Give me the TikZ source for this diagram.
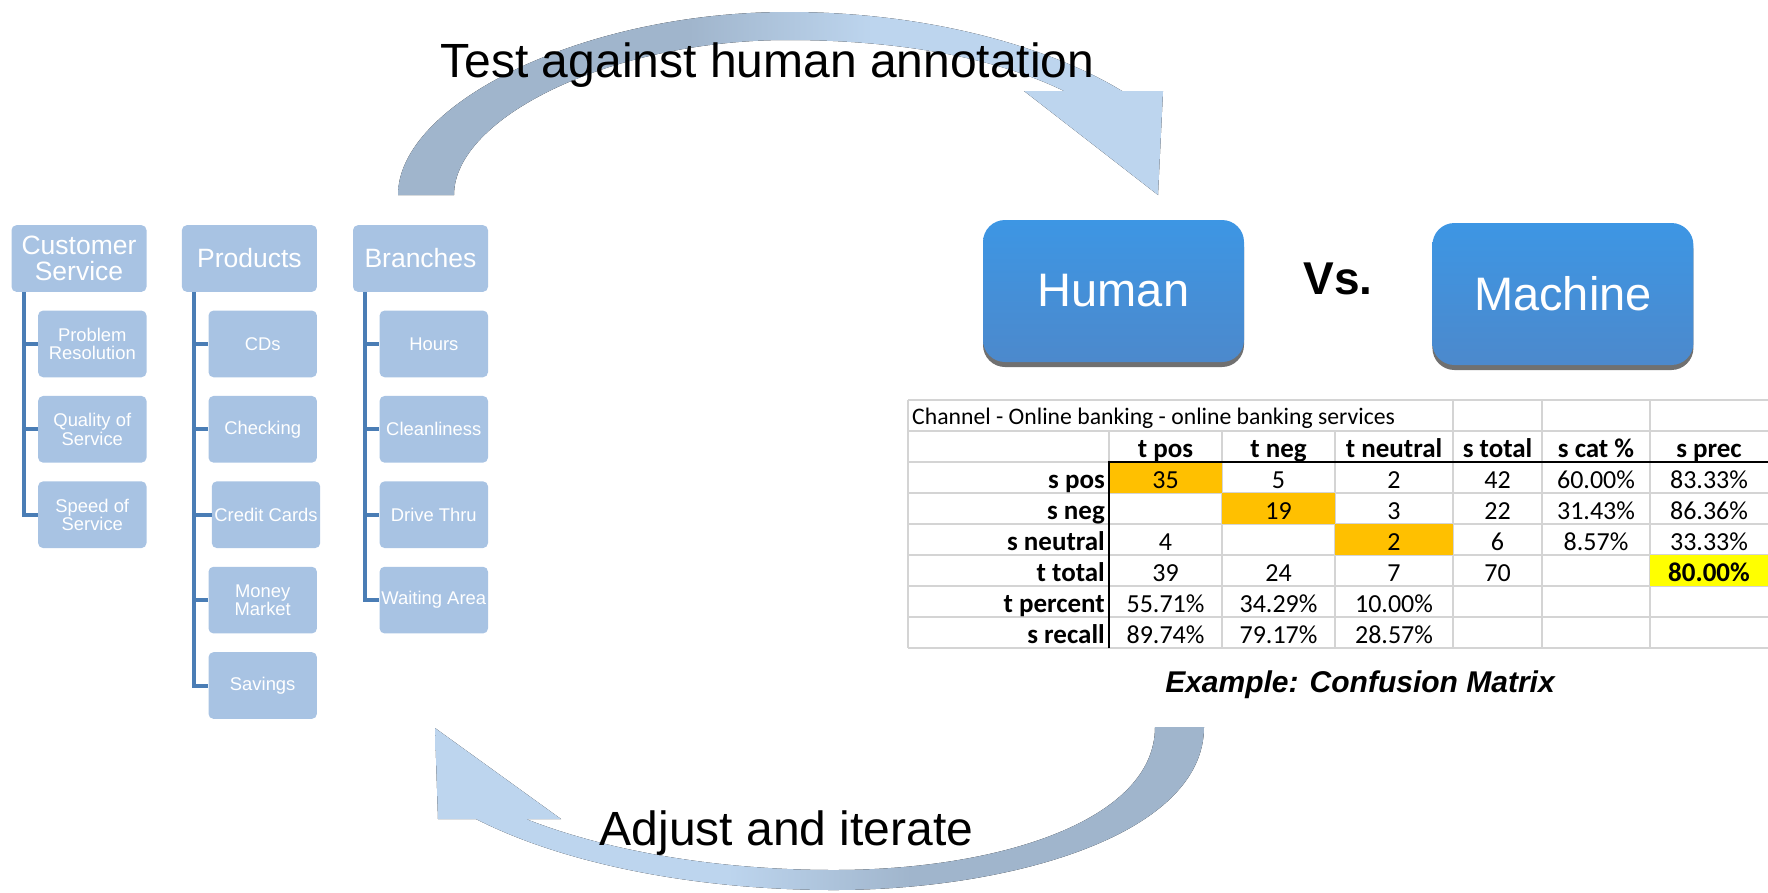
\documentclass[tikz,border=0pt]{standalone}
\usepackage{fontspec}
\setmainfont{Liberation Sans}
\newfontfamily\tablefont{Carlito}
\usepackage{tikz}
\usetikzlibrary{positioning,calc,shadows}

\definecolor{boxblue}{HTML}{A8C3E3}
\definecolor{lineblue}{HTML}{4A7DB5}
\definecolor{arcdark}{HTML}{A0B5CC}
\definecolor{arclight}{HTML}{BDD5EE}
\definecolor{humantop}{HTML}{3D96E4}
\definecolor{humanbot}{HTML}{4C89CC}
\definecolor{gridgray}{HTML}{D4D4D4}
\definecolor{cellorange}{HTML}{FFC000}
\definecolor{cellyellow}{HTML}{FFFF00}
\newcommand{\setfs}[1]{\fontsize{#1}{#1}\selectfont}
\pgfdeclarehorizontalshading{arcshade}{100bp}{color(0bp)=(arcdark); color(44bp)=(arcdark);
  color(56bp)=(arclight); color(100bp)=(arclight)}

\begin{document}
\begin{tikzpicture}[
  x=1pt, y=-1pt,
  node distance=18.3pt,
  catbox/.style={fill=boxblue, rounded corners=5pt, minimum width=135pt, minimum height=66.7pt,
                 inner sep=0pt, align=center, text=white, font=\setfs{26.5}},
  leafbox/.style={catbox, minimum width=108.4pt, font=\setfs{18.4}},
  treeline/.style={draw=lineblue, line width=4pt},
  bigbox/.style={rounded corners=22pt, top color=humantop, bottom color=humanbot,
                 minimum width=261pt, minimum height=142pt, text=white, font=\setfs{47},
                 drop shadow={shadow xshift=0pt, shadow yshift=-5pt, fill=black!80, opacity=0.7}},
  gridline/.style={draw=gridgray, line width=2pt},
  cell/.style={anchor=base, inner sep=0pt, font=\tablefont\setfs{26}},
  headcell/.style={cell, font=\tablefont\bfseries\setfs{27}},
  arclabel/.style={anchor=base, font=\setfs{48}}
]
  \useasboundingbox (0,0) rectangle (1768,892);

  % feedback arcs
  \fill[shading=arcshade] (398,195) .. controls (398,105) and (580,12) .. (788,12)
    .. controls (935,12) and (1055,50) .. (1122,91)
    -- (1163,91) -- (1158,195) -- (1024,91) -- (1064,91)
    .. controls (990,55) and (890,40) .. (788,40)
    .. controls (610,40) and (454,118) .. (454,195) -- cycle;
  \fill[shading=arcshade, shading angle=180] (1204,727) .. controls (1204,835) and (1010,890) .. (834,890)
    .. controls (690,890) and (560,862) .. (476,819)
    -- (438,819) -- (435,728) -- (561,819) -- (526,819)
    .. controls (610,852) and (720,870) .. (834,870)
    .. controls (1000,870) and (1155,820) .. (1155,727) -- cycle;
  \node[arclabel] (testlbl) at (767.5,77) {Test against human annotation};
  \node[arclabel] (adjlbl) at (786.5,845) {Adjust and iterate};

  % category tree
  \node[catbox] (cs) at (79,258.5) {Customer\\Service};
  \node[catbox, right=35pt of cs] (pr) {Products};
  \node[catbox, right=35.7pt of pr] (br) {Branches};

  \node[leafbox, below left=18.3pt and 0pt of cs.south east] (cs1) {Problem\\Resolution};
  \node[leafbox, below=of cs1] (cs2) {Quality of\\Service};
  \node[leafbox, below=of cs2] (cs3) {Speed of\\Service};

  \node[leafbox, below left=18.3pt and 0pt of pr.south east] (pr1) {CDs};
  \node[leafbox, below=of pr1] (pr2) {Checking};
  \node[leafbox, below=of pr2, xshift=3.3pt] (pr3) {Credit Cards};
  \node[leafbox, below=of pr3, xshift=-3.3pt] (pr4) {Money\\Market};
  \node[leafbox, below=of pr4] (pr5) {Savings};

  \node[leafbox, below left=18.3pt and 0pt of br.south east] (br1) {Hours};
  \node[leafbox, below=of br1] (br2) {Cleanliness};
  \node[leafbox, below=of br2] (br3) {Drive Thru};
  \node[leafbox, below=of br3] (br4) {Waiting Area};

  \foreach \h/\kids in {cs/{cs1,cs2,cs3}, pr/{pr1,pr2,pr3,pr4,pr5}, br/{br1,br2,br3,br4}}
    \foreach \k in \kids
      \draw[treeline] ([xshift=12.6pt]\h.south west) |- (\k.west);

  % human vs machine
  \node[bigbox] (human) at (1113.5,291) {Human};
  \node[bigbox, right=188pt of human, yshift=-3pt] (machine) {Machine};
  \node[font=\bfseries\setfs{46}] (vs) at ($(human.east)!0.5!(machine.west)+(0,-14)$) {Vs.};

  % confusion matrix
  \foreach \k in {0,...,8}
    \draw[gridline] (908,{400+31*\k}) -- (1768,{400+31*\k});
  \foreach \gx in {908,1453,1542,1650}
    \draw[gridline] (\gx,400) -- (\gx,648);
  \foreach \gx in {1109,1222,1335}
    \draw[gridline] (\gx,431) -- (\gx,648);
  \fill[cellorange] (1109,462) rectangle (1222,493);
  \fill[cellorange] (1222,493) rectangle (1335,524);
  \fill[cellorange] (1335,524) rectangle (1453,555);
  \fill[cellyellow] (1650,555) rectangle (1768,586);
  \draw[line width=2.2pt] (1109,648) -- (1109,462) -- (1768,462);

  \node[cell, anchor=base west, font=\tablefont\setfs{23.7}] (title) at (912,424)
    {Channel - Online banking - online banking services};
  \foreach \cx/\t [count=\c] in {1165.5/t pos, 1278.5/t neg, 1394/t neutral,
                                 1497.5/s total, 1596/s cat \%, 1709/s prec}
    \node[headcell] (h\c) at (\cx,457) {\t};
  \foreach \ry/\n/\t in {488/sp/s pos, 519/sn/s neg, 550/su/s neutral,
                         581/tt/t total, 612/tp/t percent, 643/sr/s recall}
    \node[headcell, anchor=base east] (\n) at (1105,\ry) {\t};

  \foreach \c/\t in {1/35,2/5,3/2,4/42,5/60.00\%,6/83.33\%}
    \node[cell] (sp-\c) at (h\c.base |- sp.base) {\t};
  \foreach \c/\t in {2/19,3/3,4/22,5/31.43\%,6/86.36\%}
    \node[cell] (sn-\c) at (h\c.base |- sn.base) {\t};
  \foreach \c/\t in {1/4,3/2,4/6,5/8.57\%,6/33.33\%}
    \node[cell] (su-\c) at (h\c.base |- su.base) {\t};
  \foreach \c/\t in {1/39,2/24,3/7,4/70}
    \node[cell] (tt-\c) at (h\c.base |- tt.base) {\t};
  \node[headcell] (tt-6) at (h6.base |- tt.base) {80.00\%};
  \foreach \c/\t in {1/55.71\%,2/34.29\%,3/10.00\%}
    \node[cell] (tp-\c) at (h\c.base |- tp.base) {\t};
  \foreach \c/\t in {1/89.74\%,2/79.17\%,3/28.57\%}
    \node[cell] (sr-\c) at (h\c.base |- sr.base) {\t};

  \node[anchor=base, font=\bfseries\itshape\setfs{30}] (caption) at (1360,692) {Example: Confusion Matrix};
\end{tikzpicture}
\end{document}
